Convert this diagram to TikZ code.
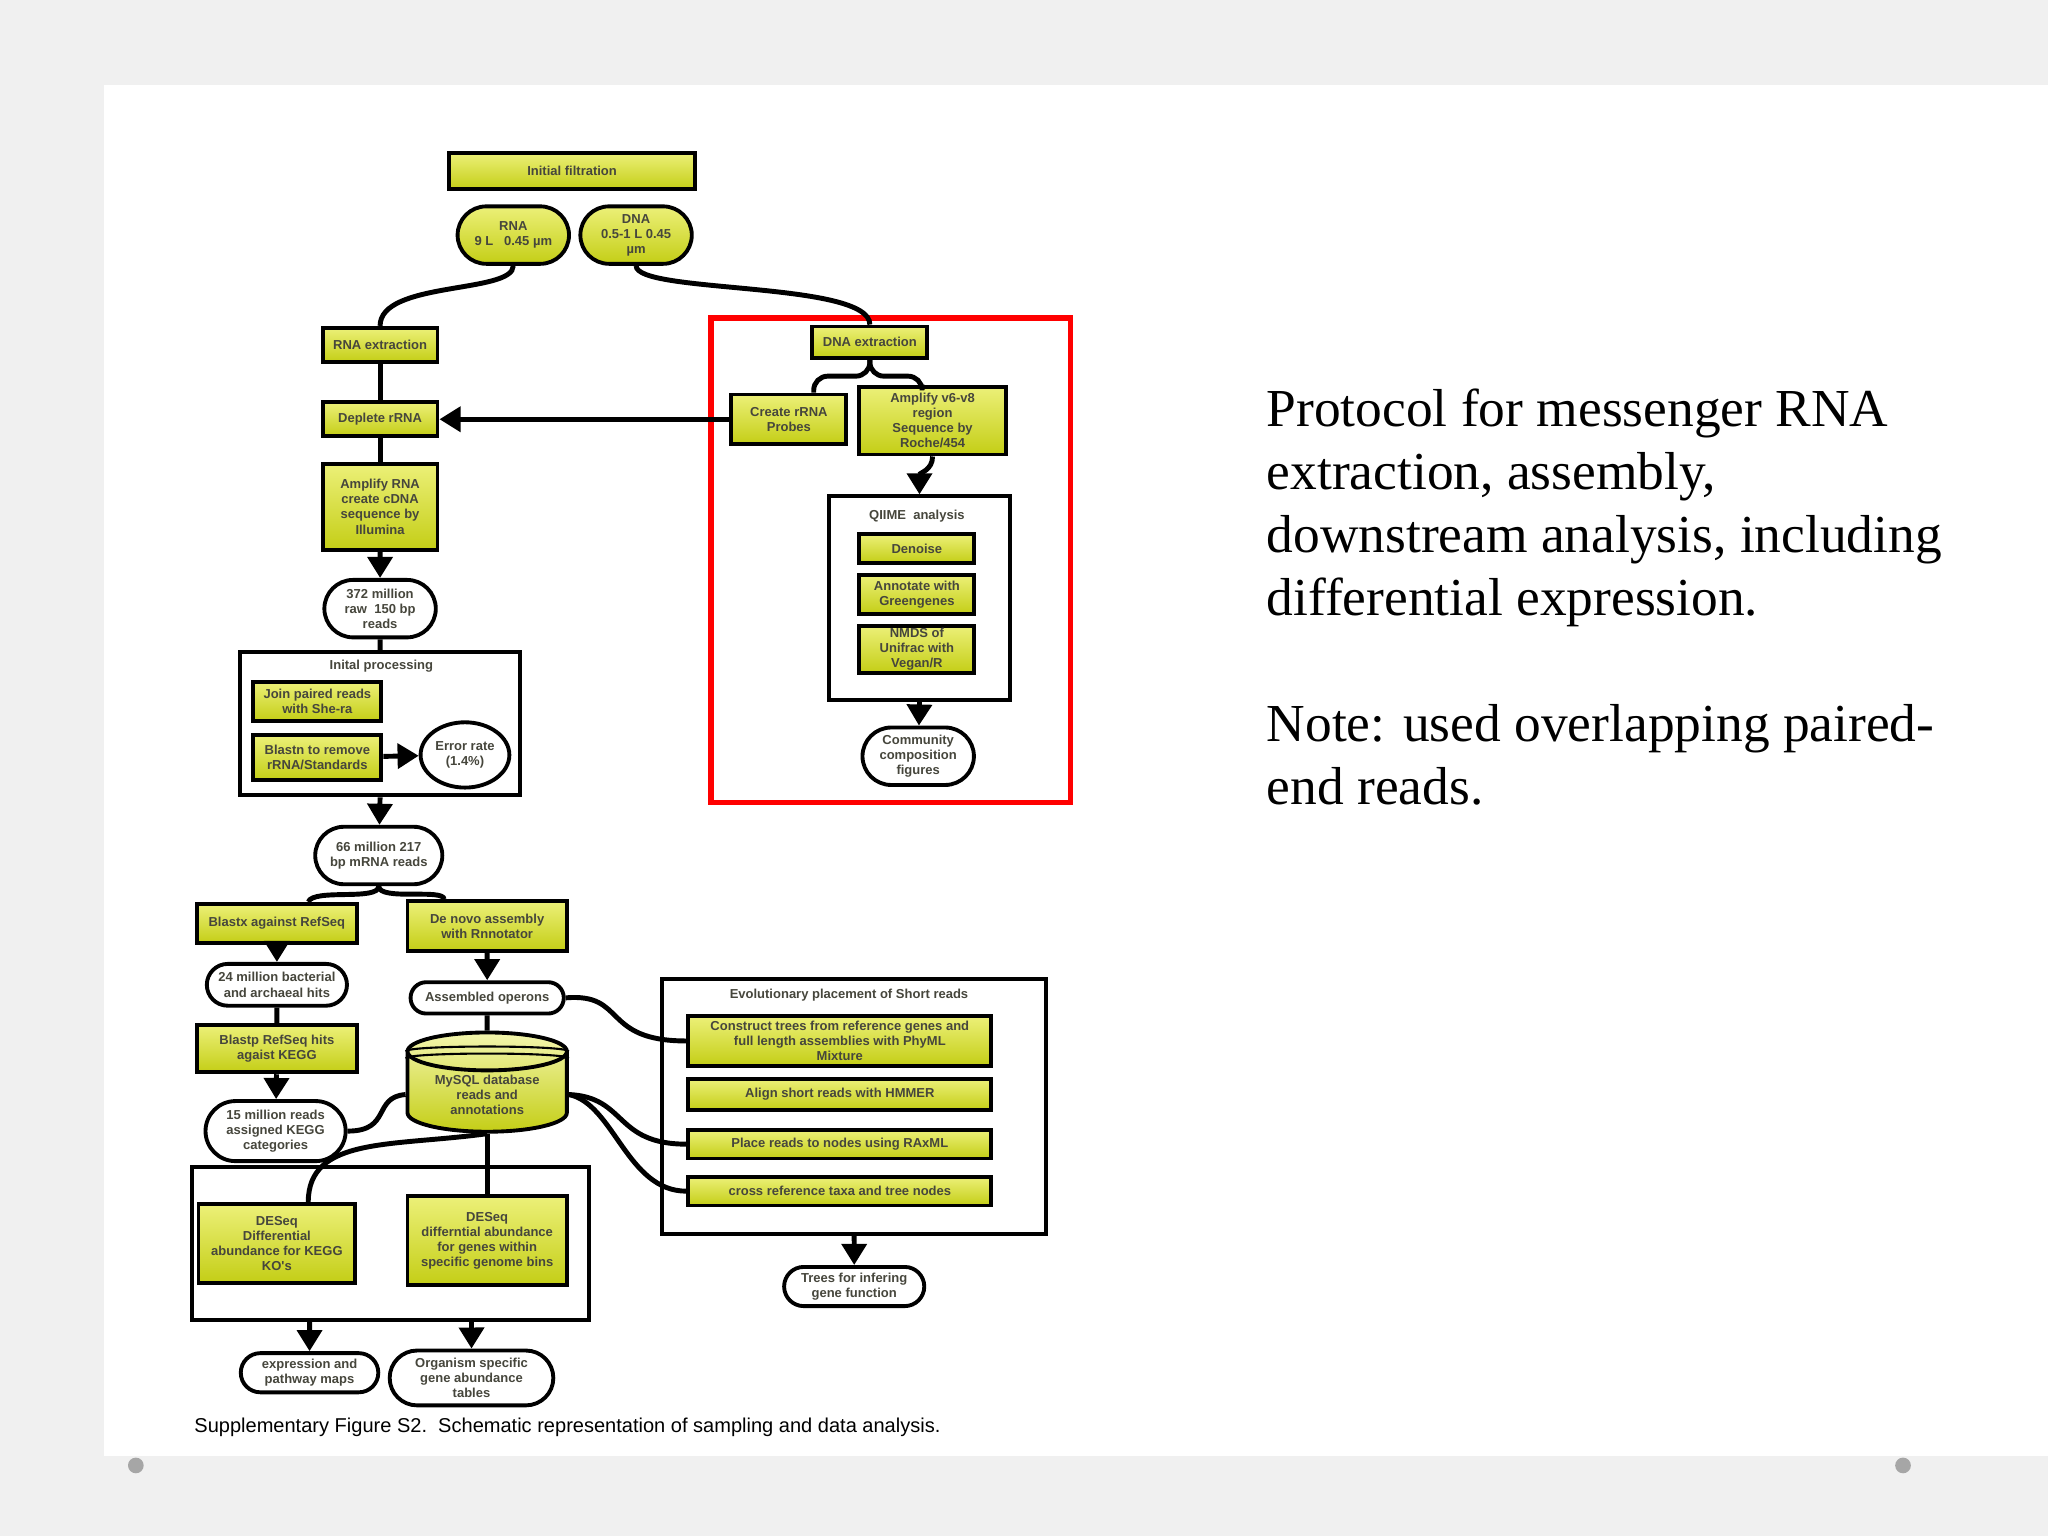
\documentclass[tikz,border=0pt]{standalone}
\usepackage{fontspec}
\setmainfont{Liberation Serif}
\newfontfamily\diagfont{Liberation Sans}
\usetikzlibrary{shapes.geometric,shapes.misc,arrows.meta}
\newdimen\pxu \pxu=0.01306cm
\definecolor{boxtop}{RGB}{236,240,120}
\definecolor{boxbot}{RGB}{196,206,22}
\definecolor{inktext}{RGB}{70,70,60}
\begin{document}
\begin{tikzpicture}[x=0.01306cm,y=-0.01306cm,
  line width=1.4pt,
  % node styles
  Box/.style={draw,line width=1.1pt,top color=boxtop,bottom color=boxbot,
    font=\diagfont\bfseries\fontsize{3.7}{4.3}\selectfont,text=inktext,
    align=center,inner sep=0.5pt,shape=rectangle},
  Pill/.style={draw,line width=1.1pt,fill=white,rounded rectangle,
    font=\diagfont\bfseries\fontsize{3.7}{4.3}\selectfont,text=inktext,
    align=center,inner sep=0.5pt},
  Frame/.style={draw,line width=1.1pt,shape=rectangle,inner sep=0pt},
  Label/.style={font=\diagfont\bfseries\fontsize{3.7}{4.3}\selectfont,text=inktext},
  Arr/.style={-{Triangle[length=6pt,width=7pt]}}]

  % background and slide
  \fill[gray!12] (0,0) rectangle (1568,1176);
  \fill[white] (80,65) rectangle (1568,1115);
  \fill[gray!70] (104,1122) circle (6);
  \fill[gray!70] (1457,1122) circle (6);

  % frames
  \node[Frame,minimum width=214\pxu,minimum height=110\pxu] (IP) at (291,554) {};
  \node[Label] (IPl) at (292,510) {Inital processing};
  \node[Frame,minimum width=304\pxu,minimum height=117\pxu] (DE) at (299,952) {};
  \node[Frame,minimum width=294\pxu,minimum height=195\pxu] (EV) at (654,847) {};
  \node[Label] (EVl) at (650,762) {Evolutionary placement of Short reads};
  \node[Frame,minimum width=138\pxu,minimum height=156\pxu] (QI) at (704,458) {};
  \node[Label] (QIl) at (702,395) {QIIME\ \ analysis};
  \node[draw=red,line width=1.6pt,minimum width=275\pxu,minimum height=371\pxu] (RED) at (682,429) {};

  % top part
  \node[Box,minimum width=188\pxu,minimum height=28\pxu] (init) at (438,131) {Initial filtration};
  \node[Box,rounded rectangle,minimum width=88\pxu,minimum height=44\pxu] (rna) at (393,180) {RNA\\9 L\ \ \ 0.45 \textmu m};
  \node[Box,rounded rectangle,minimum width=88\pxu,minimum height=44\pxu] (dna) at (487,180) {DNA\\0.5-1 L 0.45\\\textmu m};

  \node[Box,minimum width=88\pxu,minimum height=26\pxu] (rnaex) at (291,264) {RNA extraction};
  \node[Box,minimum width=88\pxu,minimum height=26\pxu] (depl) at (291,321) {Deplete rRNA};
  \node[Box,minimum width=88\pxu,minimum height=66\pxu] (amp) at (291,388) {Amplify RNA\\create cDNA\\sequence by\\Illumina};
  \node[Pill,minimum width=88\pxu,minimum height=44\pxu] (r372) at (291,466) {372 million\\raw\ \ 150 bp\\reads};
  \node[Box,minimum width=98\pxu,minimum height=30\pxu] (join) at (243,537) {Join paired reads\\with She-ra};
  \node[Box,minimum width=98\pxu,minimum height=34\pxu] (blastn) at (243,580) {Blastn to remove\\rRNA/Standards};
  \node[Pill,ellipse,minimum width=66\pxu,minimum height=50\pxu] (err) at (356,578) {Error rate\\(1.4\%)};

  % DNA side
  \node[Box,minimum width=88\pxu,minimum height=24\pxu] (dnaex) at (666,262) {DNA extraction};
  \node[Box,minimum width=88\pxu,minimum height=38\pxu] (probes) at (604,321) {Create rRNA\\Probes};
  \node[Box,minimum width=112\pxu,minimum height=52\pxu] (ampv) at (714,322) {Amplify v6-v8\\region\\Sequence by\\Roche/454};
  \node[Box,minimum width=88\pxu,minimum height=22\pxu] (denoise) at (702,420) {Denoise};
  \node[Box,minimum width=88\pxu,minimum height=30\pxu] (annot) at (702,455) {Annotate with\\Greengenes};
  \node[Box,minimum width=88\pxu,minimum height=36\pxu] (nmds) at (702,497) {NMDS of\\Unifrac with\\Vegan/R};
  \node[Pill,minimum width=88\pxu,minimum height=44\pxu] (comm) at (703,579) {Community\\composition\\figures};

  % lower part
  \node[Pill,minimum width=100\pxu,minimum height=44\pxu] (m66) at (290,655) {66 million 217\\bp mRNA reads};
  \node[Box,minimum width=122\pxu,minimum height=30\pxu] (blastx) at (212,707) {Blastx against RefSeq};
  \node[Box,minimum width=122\pxu,minimum height=38\pxu] (denovo) at (373,709) {De novo assembly\\with Rnnotator};
  \node[Pill,minimum width=110\pxu,minimum height=32\pxu] (m24) at (212,754) {24 million bacterial\\and archaeal hits};
  \node[Pill,minimum width=120\pxu,minimum height=24\pxu] (asm) at (373,764) {Assembled operons};
  \node[Box,minimum width=122\pxu,minimum height=36\pxu] (blastp) at (212,803) {Blastp RefSeq hits\\agaist KEGG};
  \node[Pill,minimum width=110\pxu,minimum height=46\pxu] (m15) at (211,866) {15 million reads\\assigned KEGG\\categories};
  \node[Box,cylinder,shape border rotate=90,aspect=0.35,minimum width=122\pxu,minimum height=76\pxu,
    top color=boxtop!60!white,bottom color=boxbot] (db) at (373,838) {MySQL database\\reads and\\annotations};
  \draw[line width=0.6pt] (db.before top) .. controls +(0,-5) and +(0,-5) .. (db.after top);
  \draw[line width=0.6pt] ([yshift=-2pt]db.before top) .. controls +(0,-5) and +(0,-5) .. ([yshift=-2pt]db.after top);
  \node[Box,minimum width=120\pxu,minimum height=60\pxu] (des1) at (212,952) {DESeq\\Differential\\abundance for KEGG\\KO's};
  \node[Box,minimum width=122\pxu,minimum height=68\pxu] (des2) at (373,950) {DESeq\\differntial abundance\\for genes within\\specific genome bins};
  \node[Pill,minimum width=108\pxu,minimum height=30\pxu] (expr) at (237,1051) {expression and\\pathway maps};
  \node[Pill,minimum width=128\pxu,minimum height=42\pxu] (org) at (361,1055) {Organism specific\\gene abundance\\tables};
  \node[Box,minimum width=232\pxu,minimum height=38\pxu] (c1) at (643,797) {Construct trees from reference genes and\\full length assemblies with PhyML\\Mixture};
  \node[Box,minimum width=232\pxu,minimum height=24\pxu] (c2) at (643,838) {Align short reads with HMMER};
  \node[Box,minimum width=232\pxu,minimum height=22\pxu] (c3) at (643,876) {Place reads to nodes using RAxML};
  \node[Box,minimum width=232\pxu,minimum height=22\pxu] (c4) at (643,912) {cross reference taxa and tree nodes};
  \node[Pill,minimum width=110\pxu,minimum height=30\pxu] (trees) at (654,985) {Trees for infering\\gene function};

  % connectors
  \draw (rna.south) .. controls (393,225) and (291,215) .. (rnaex.north);
  \draw (dna.south) .. controls (487,225) and (666,215) .. (dnaex.north);
  \draw (rnaex) -- (depl);
  \draw (depl) -- (amp);
  \draw[Arr] (amp) -- (r372);
  \draw (r372) -- (IP.north);
  \draw[Arr] (IP.south) -- (m66);
  \draw[Arr] (probes.west) -- (depl.east);
  \draw[rounded corners=4pt] (dnaex.south) -- (666,288) -- (623,288) -- (probes.north -| 623,0);
  \draw[rounded corners=4pt] (dnaex.south) -- (666,288) -- (706,288) -- (ampv.north -| 706,0);
  \draw[Arr] (ampv.south) .. controls (714,360) and (704,362) .. (QI.north);
  \draw[Arr] (QI.south) -- (comm);
  \draw[Arr] (blastn) -- (err);
  \draw (m66.south) .. controls (290,690) and (240,680) .. (blastx.north -| 236,0);
  \draw (m66.south) .. controls (290,690) and (340,680) .. (denovo.north -| 340,0);
  \draw[Arr] (blastx) -- (m24);
  \draw (m24) -- (blastp);
  \draw[Arr] (blastp) -- (m15);
  \draw[Arr] (denovo) -- (asm);
  \draw (asm) -- (db);
  \draw (asm.east) .. controls (480,760) and (460,797) .. (c1.west);
  \draw (db.west) .. controls (285,840) and (300,866) .. (m15.east);
  \draw (db.south) .. controls (300,878) and (236,870) .. (des1.north -| 236,0);
  \draw (db.south) -- (des2);
  \draw (db.east) .. controls (480,840) and (470,876) .. (c3.west);
  \draw (db.east) .. controls (470,845) and (480,912) .. (c4.west);
  \draw[Arr] (DE.south -| expr) -- (expr);
  \draw[Arr] (DE.south -| org) -- (org);
  \draw[Arr] (EV.south) -- (trees);

  % caption and side text
  \node[font=\diagfont\fontsize{5.7}{6.8}\selectfont,anchor=west] (cap) at (138,1093)
    {Supplementary Figure S2.\ \ Schematic representation of sampling and data analysis.};
  \node[anchor=north west,align=left,font=\fontsize{15.2}{17.9}\selectfont,inner sep=0pt] (note) at (968,296)
    {Protocol for messenger RNA\\extraction, assembly,\\downstream analysis, including\\differential expression.\\[17.9pt]Note: used overlapping paired-\\end reads.};
\end{tikzpicture}
\end{document}
